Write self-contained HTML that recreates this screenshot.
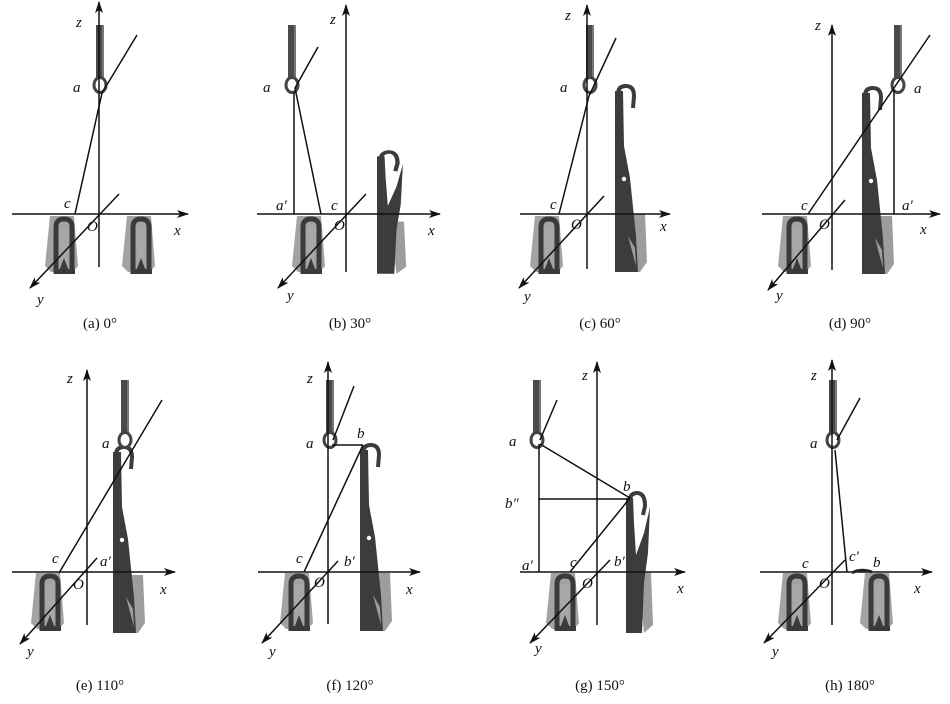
<!DOCTYPE html>
<html><head><meta charset="utf-8"><style>
html,body{margin:0;padding:0;background:#fff;}
svg{display:block;}
text{font-family:"Liberation Serif",serif;font-size:15px;fill:#111;}
.it{font-style:italic;}
.cap{font-size:14px;}
</style></head><body>
<svg width="950" height="704" viewBox="0 0 950 704" xmlns="http://www.w3.org/2000/svg">
<defs>
<marker id="ar" viewBox="0 0 12 8" refX="11" refY="4" markerWidth="12" markerHeight="8" markerUnits="userSpaceOnUse" orient="auto">
<path d="M0 0 L12 4 L0 8 L3 4 Z" fill="#111" stroke="none"/></marker>
<g id="stitch" stroke="none">
<path d="M3 0 H27 L31 50 L26 56 H4 L-2 50 Z" fill="#a3a3a3"/>
<path d="M9 58 L9 11 Q9 3 17 3 Q25 3 25 11 L25 58" stroke="#3a3a3a" stroke-width="5" fill="none"/>
<path d="M12 12 L22 12 L20 50 L17 42 L14 50 Z" fill="#a8a8a8"/>
<path d="M11 58 L17 42 L23 58 Z" fill="#3a3a3a"/>
<rect x="7" y="53" width="21" height="5" fill="#3a3a3a"/>
</g>
<g id="eyen" stroke="none">
<path d="M-4 -60 H4 L4 -6 L-4 -6 Z" fill="#4a4a4a"/>
<rect x="2" y="-60" width="2" height="54" fill="#777"/>
<ellipse cx="0" cy="0" rx="6" ry="7.5" fill="#fff" stroke="#444" stroke-width="3"/>
</g>
<g id="bign" stroke="none">
<path d="M10 128 L30 128 L32 176 L25 186 L14 186 Z" fill="#9d9d9d"/>
<path d="M0 5 L8 5 L9 60 L15 92 L21 150 L23 186 L0 186 Z" fill="#3c3c3c"/>
<path d="M3 16 L3 8 Q3 0 11 0 Q19 0 19 10 L18 22" stroke="#3c3c3c" stroke-width="4" fill="none"/>
<path d="M13 150 L20 162 L21 180 Z" fill="#9d9d9d"/>
<circle cx="9" cy="93" r="2.2" fill="#fff"/>
</g>
<g id="vn" stroke="none">
<path d="M12 80 L25 80 L27 132 L18 140 Z" fill="#9d9d9d"/>
<path d="M0 5 L7 5 L8 30 L10 62 L18 40 L24 14 L22 60 L18 90 L16 140 L0 140 Z" fill="#3c3c3c"/>
<path d="M3 12 Q3 0 11 0 Q19 0 19 13 L17 22" stroke="#3c3c3c" stroke-width="4" fill="none"/>
</g>
</defs>
<g>
<use href="#stitch" x="47" y="216"/><use href="#stitch" x="124" y="216"/>
<use href="#eyen" x="100" y="85"/>
<use href="#stitch" x="294" y="216"/>
<g transform="translate(377,152) scale(1.08,0.87)"><use href="#vn"/></g>
<use href="#eyen" x="292" y="85"/>
<use href="#stitch" x="532" y="216"/>
<use href="#bign" x="615" y="86"/>
<use href="#eyen" x="590" y="85"/>
<use href="#stitch" x="780" y="216"/>
<use href="#bign" x="862" y="88"/>
<use href="#eyen" x="898" y="85"/>
<use href="#stitch" x="33" y="573"/>
<use href="#bign" x="113" y="447"/>
<use href="#eyen" x="125" y="440"/>
<use href="#stitch" x="282" y="573"/>
<use href="#bign" x="360" y="445"/>
<use href="#eyen" x="330" y="440"/>
<use href="#stitch" x="548" y="573"/>
<use href="#vn" x="626" y="493"/>
<use href="#eyen" x="537" y="440"/>
<use href="#stitch" x="780" y="573"/>
<use href="#stitch" x="862" y="573"/>
<use href="#eyen" x="833" y="440"/>
</g>
<g stroke="#111" stroke-width="1.5" fill="none">
<line x1="99" y1="267" x2="99" y2="2" marker-end="url(#ar)"/>
<line x1="12" y1="214" x2="188" y2="214" marker-end="url(#ar)"/>
<line x1="119" y1="194" x2="30" y2="288" marker-end="url(#ar)"/>
<polyline points="137,35 102,93 75,214"/>
<line x1="346" y1="272" x2="346" y2="5" marker-end="url(#ar)"/>
<line x1="257" y1="214" x2="440" y2="214" marker-end="url(#ar)"/>
<line x1="366" y1="194" x2="278" y2="288" marker-end="url(#ar)"/>
<polyline points="318,47 295,88 321,214"/>
<line x1="294" y1="92" x2="294" y2="214"/>
<line x1="587" y1="269" x2="587" y2="5" marker-end="url(#ar)"/>
<line x1="520" y1="214" x2="670" y2="214" marker-end="url(#ar)"/>
<line x1="604" y1="196" x2="519" y2="288" marker-end="url(#ar)"/>
<polyline points="616,38 589,96 559,214"/>
<line x1="832" y1="270" x2="832" y2="25" marker-end="url(#ar)"/>
<line x1="762" y1="214" x2="940" y2="214" marker-end="url(#ar)"/>
<line x1="845" y1="200" x2="768" y2="290" marker-end="url(#ar)"/>
<line x1="930" y1="35" x2="808" y2="214"/>
<line x1="894" y1="90" x2="894" y2="214"/>
<line x1="87" y1="625" x2="87" y2="370" marker-end="url(#ar)"/>
<line x1="12" y1="572" x2="175" y2="572" marker-end="url(#ar)"/>
<line x1="97" y1="558" x2="20" y2="644" marker-end="url(#ar)"/>
<line x1="162" y1="400" x2="59" y2="573"/>
<line x1="328" y1="624" x2="328" y2="362" marker-end="url(#ar)"/>
<line x1="258" y1="572" x2="420" y2="572" marker-end="url(#ar)"/>
<line x1="338" y1="561" x2="262" y2="643" marker-end="url(#ar)"/>
<line x1="354" y1="386" x2="333" y2="440"/>
<line x1="332" y1="445" x2="363" y2="445"/>
<line x1="363" y1="445" x2="304" y2="572"/>
<line x1="597" y1="625" x2="597" y2="362" marker-end="url(#ar)"/>
<line x1="520" y1="572" x2="685" y2="572" marker-end="url(#ar)"/>
<line x1="610" y1="560" x2="530" y2="643" marker-end="url(#ar)"/>
<line x1="557" y1="400" x2="540" y2="440"/>
<line x1="540" y1="444" x2="630" y2="498"/>
<line x1="539" y1="499" x2="630" y2="499"/>
<line x1="539" y1="444" x2="539" y2="572"/>
<line x1="630" y1="498" x2="570" y2="572"/>
<line x1="832" y1="625" x2="832" y2="360" marker-end="url(#ar)"/>
<line x1="760" y1="572" x2="932" y2="572" marker-end="url(#ar)"/>
<line x1="845" y1="560" x2="764" y2="643" marker-end="url(#ar)"/>
<line x1="860" y1="398" x2="837" y2="440"/>
<line x1="835" y1="450" x2="847" y2="572"/>
<path d="M852 573 Q860 568 872 572" stroke="#222" stroke-width="3"/>
</g>
<g class="it">
<text x="76" y="27">z</text><text x="73" y="92">a</text><text x="64" y="208">c</text><text x="87" y="231">O</text><text x="174" y="235">x</text><text x="37" y="304">y</text>
<text x="330" y="24">z</text><text x="263" y="92">a</text><text x="276" y="210">a′</text><text x="331" y="210">c</text><text x="334" y="230">O</text><text x="428" y="235">x</text><text x="287" y="300">y</text>
<text x="565" y="20">z</text><text x="560" y="92">a</text><text x="550" y="209">c</text><text x="571" y="229">O</text><text x="660" y="231">x</text><text x="524" y="301">y</text>
<text x="815" y="30">z</text><text x="914" y="93">a</text><text x="801" y="210">c</text><text x="902" y="210">a′</text><text x="819" y="229">O</text><text x="920" y="234">x</text><text x="776" y="300">y</text>
<text x="67" y="383">z</text><text x="102" y="448">a</text><text x="52" y="563">c</text><text x="100" y="566">a′</text><text x="73" y="589">O</text><text x="160" y="594">x</text><text x="27" y="656">y</text>
<text x="307" y="383">z</text><text x="306" y="448">a</text><text x="357" y="438">b</text><text x="296" y="563">c</text><text x="344" y="566">b′</text><text x="314" y="587">O</text><text x="406" y="594">x</text><text x="269" y="656">y</text>
<text x="582" y="380">z</text><text x="509" y="446">a</text><text x="623" y="491">b</text><text x="505" y="508">b″</text><text x="522" y="570">a′</text><text x="570" y="567">c</text><text x="614" y="566">b′</text><text x="582" y="588">O</text><text x="677" y="593">x</text><text x="535" y="653">y</text>
<text x="811" y="380">z</text><text x="810" y="448">a</text><text x="802" y="568">c</text><text x="849" y="561">c′</text><text x="873" y="567">b</text><text x="819" y="588">O</text><text x="914" y="593">x</text><text x="772" y="656">y</text>
</g>
<g class="cap" text-anchor="middle">
<text x="100" y="328">(a) 0°</text><text x="350" y="328">(b) 30°</text><text x="600" y="328">(c) 60°</text><text x="850" y="328">(d) 90°</text>
<text x="100" y="690">(e) 110°</text><text x="350" y="690">(f) 120°</text><text x="600" y="690">(g) 150°</text><text x="850" y="690">(h) 180°</text>
</g>
</svg>
</body></html>
